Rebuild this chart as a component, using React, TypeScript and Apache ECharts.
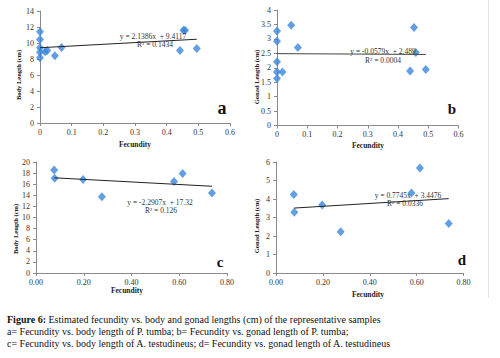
import React, { useEffect, useRef } from "react";
import * as echarts from "echarts";

const FONT = "'Liberation Serif', 'Times New Roman', serif";

// Panel a: Fecundity vs body length (P. tumba)
const aFec = [0, 0, 0, 0, 0, 0.016, 0.023, 0.047, 0.068, 0.442, 0.453, 0.458, 0.495];
const aLen = [11.4, 10.45, 9.4, 8.85, 8.15, 8.9, 9.05, 8.4, 9.45, 9.05, 11.6, 11.6, 9.3];
const aTrend = [[0, 9.41], [0.495, 10.47]];

// Panel b: Fecundity vs gonad length (P. tumba)
const bFec = [0, 0, 0, 0, 0, 0.018, 0.047, 0.069, 0.44, 0.453, 0.459, 0.492];
const bLen = [3.27, 2.92, 2.21, 1.85, 1.63, 1.85, 3.47, 2.7, 1.89, 3.39, 2.53, 1.94];
const bTrend = [[0, 2.489], [0.492, 2.46]];

// Panel c: Fecundity vs body length (A. testudineus)
const cFec = [0.076, 0.078, 0.197, 0.276, 0.578, 0.614, 0.737];
const cLen = [18.55, 17.05, 16.85, 13.75, 16.5, 17.95, 14.4];
const cTrend = [[0.077, 17.15], [0.737, 15.63]];

// Panel d: Fecundity vs gonad length (A. testudineus)
const dFec = [0.076, 0.078, 0.197, 0.276, 0.578, 0.614, 0.737];
const dLen = [4.25, 3.28, 3.67, 2.23, 4.33, 5.68, 2.68];
const dTrend = [[0.077, 3.51], [0.737, 4.02]];

const equations = [
  { eq: "y = 2.1386x  + 9.4117", r2: "R² = 0.1434", x: 153, y: 36, rx: 155, ry: 44 },
  { eq: "y = -0.0579x  + 2.489", r2: "R² = 0.0004", x: 383, y: 51, rx: 383, ry: 60 },
  { eq: "y = -2.2907x  + 17.32", r2: "R² = 0.126", x: 160, y: 202, rx: 161, ry: 210.5 },
  { eq: "y = 0.7745x  + 3.4476", r2: "R² = 0.0336", x: 408, y: 195, rx: 405, ry: 203.5 },
];

const captionLines = [
  "{b|Figure 6:} Estimated fecundity vs. body and gonad lengths (cm) of the representative samples",
  "a= Fecundity vs. body length of P. tumba; b= Fecundity vs. gonad length of P. tumba;",
  "c= Fecundity vs. body length of A. testudineus; d= Fecundity vs. gonad length of A. testudineus",
];

const BLUE = "#3A86DC";

function zip(xs: number[], ys: number[]) {
  return xs.map((x, i) => [x, ys[i]]);
}

export default function App() {
  const ref = useRef<HTMLDivElement>(null);
  useEffect(() => {
    document.body.style.margin = "0";
    const chart = echarts.init(ref.current!, undefined, { renderer: "svg" });

    const grids = [
      { left: 40, top: 11, width: 190, height: 112 },
      { left: 277, top: 10, width: 181.5, height: 115.5 },
      { left: 36, top: 162, width: 191, height: 111 },
      { left: 276, top: 162, width: 187.5, height: 111 },
    ];

    const axisLine = { show: true, lineStyle: { color: "#8a8a8a", width: 1 } };
    const axisTick = { show: true, length: 3, lineStyle: { color: "#8a8a8a" } };
    const labelStyle = { fontFamily: FONT, fontSize: 8, color: "#333" };

    const xCfg = [
      { max: 0.6, interval: 0.1, fmt: (v: number) => String(Math.round(v * 10) / 10) },
      { max: 0.6, interval: 0.1, fmt: (v: number) => String(Math.round(v * 10) / 10) },
      { max: 0.8, interval: 0.2, fmt: (v: number) => v.toFixed(2) },
      { max: 0.8, interval: 0.2, fmt: (v: number) => v.toFixed(2) },
    ];
    const yCfg = [
      { max: 14, interval: 2 },
      { max: 4, interval: 0.5 },
      { max: 20, interval: 2 },
      { max: 6, interval: 1 },
    ];

    const xAxis = xCfg.map((c, i) => ({
      type: "value",
      gridIndex: i,
      min: 0,
      max: c.max,
      interval: c.interval,
      axisLine,
      axisTick,
      splitLine: { show: false },
      axisLabel: { ...labelStyle, margin: 5, formatter: c.fmt },
    }));
    const yAxis = yCfg.map((c, i) => ({
      type: "value",
      gridIndex: i,
      min: 0,
      max: c.max,
      interval: c.interval,
      axisLine,
      axisTick,
      splitLine: { show: false },
      axisLabel: { ...labelStyle, margin: 6 },
    }));

    const scatters = [
      zip(aFec, aLen),
      zip(bFec, bLen),
      zip(cFec, cLen),
      zip(dFec, dLen),
    ].map((data, i) => ({
      type: "scatter",
      xAxisIndex: i,
      yAxisIndex: i,
      data,
      symbol: "diamond",
      symbolSize: [8, 9],
      itemStyle: { color: BLUE },
      z: 3,
    }));

    const trends = [aTrend, bTrend, cTrend, dTrend].map((data, i) => ({
      type: "line",
      xAxisIndex: i,
      yAxisIndex: i,
      data,
      symbol: "none",
      lineStyle: { color: i === 1 ? "#444" : "#222", width: 1 },
      z: 4,
    }));

    const texts: any[] = [];
    const t = (text: string, x: number, y: number, opts: any = {}) =>
      texts.push({
        type: "text",
        x,
        y,
        rotation: opts.rotation || 0,
        style: {
          text,
          fontFamily: FONT,
          fontSize: opts.size || 8,
          fontWeight: opts.bold ? "bold" : "normal",
          fill: opts.color || "#222",
          align: opts.align || "center",
          verticalAlign: "middle",
        },
        z: 10,
      });

    // axis names
    t("Body Length (cm)", 18, 75, { rotation: Math.PI / 2, bold: true, size: 6.5 });
    t("Gonad Length (cm)", 256, 77, { rotation: Math.PI / 2, bold: true, size: 6.5 });
    t("Body Length (cm)", 15, 229, { rotation: Math.PI / 2, bold: true, size: 6.5 });
    t("Gonad Length (cm)", 256, 226, { rotation: Math.PI / 2, bold: true, size: 6.5 });
    t("Fecundity", 135, 144, { bold: true, size: 7.5 });
    t("Fecundity", 368, 145, { bold: true, size: 7.5 });
    t("Fecundity", 127, 290, { bold: true, size: 7.5 });
    t("Fecundity", 368, 294, { bold: true, size: 7.5 });

    // panel letters
    t("a", 222, 108, { bold: true, size: 18, color: "#111" });
    t("b", 452, 109, { bold: true, size: 15, color: "#111" });
    t("c", 220, 262, { bold: true, size: 15, color: "#111" });
    t("d", 462, 260, { bold: true, size: 15, color: "#111" });

    // equations
    equations.forEach((e) => {
      t(e.eq, e.x, e.y, { size: 7.5, color: "#333" });
      t(e.r2, e.rx, e.ry, { size: 7.5, color: "#333" });
    });

    // caption
    captionLines.forEach((line, i) => {
      texts.push({
        type: "text",
        x: 7,
        y: 319 + i * 12,
        style: {
          text: line,
          fontFamily: FONT,
          fontSize: 10,
          fill: "#111",
          align: "left",
          verticalAlign: "middle",
          rich: { b: { fontFamily: FONT, fontSize: 10, fontWeight: "bold", fill: "#111" } },
        },
        z: 10,
      });
    });

    texts.push({
      type: "line",
      shape: { x1: 488.5, y1: 0, x2: 488.5, y2: 298 },
      style: { stroke: "#e6e6e6", lineWidth: 1 },
      z: 1,
    });

    chart.setOption({
      animation: false,
      backgroundColor: "#fff",
      grid: grids,
      xAxis,
      yAxis,
      series: [...scatters, ...trends],
      graphic: texts,
    });
    return () => chart.dispose();
  }, []);
  return <div ref={ref} style={{ width: 500, height: 358 }} />;
}
